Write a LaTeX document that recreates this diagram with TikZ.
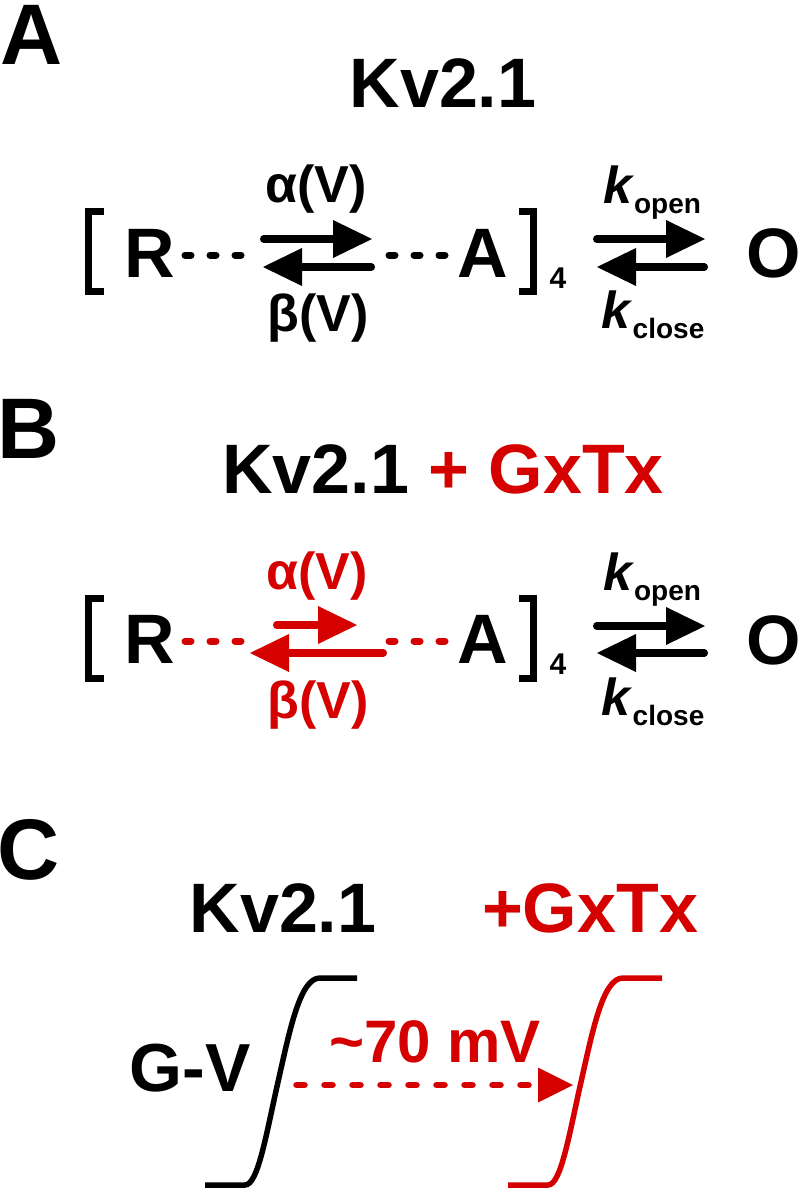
\documentclass[tikz,border=0pt]{standalone}
\usepackage{fontspec}
\setmainfont{Liberation Sans}
\usetikzlibrary{arrows.meta,calc}
\definecolor{gred}{RGB}{213,0,0}
\begin{document}
\begin{tikzpicture}[x=1pt,y=-1pt,
  txt/.style={inner sep=0pt,outer sep=0pt,anchor=base},
  panel/.style={txt,font=\fontsize{86}{90}\selectfont\bfseries},
  ttl/.style={txt,font=\fontsize{70}{80}\selectfont\bfseries},
  state/.style={txt,font=\fontsize{70}{80}\selectfont\bfseries},
  rate/.style={txt,font=\fontsize{52}{60}\selectfont\bfseries},
  subn/.style={txt,font=\fontsize{30}{32}\selectfont\bfseries},
  gv/.style={txt,font=\fontsize{68}{70}\selectfont\bfseries},
  mvlabel/.style={txt,font=\fontsize{60}{62}\selectfont\bfseries},
  rarr/.style={line width=7.5pt,line cap=round,-{Triangle[length=39pt,width=38pt,line width=0pt]}},
  dotline/.style={line width=7pt,line cap=round,dash pattern=on 6pt off 19pt},
  brk/.style={line width=7pt,miter limit=10},
  curve/.style={line width=5.5pt,line cap=butt},
  dasharr/.style={gred,line width=6.5pt,line cap=round,dash pattern=on 8pt off 20pt,
    -{Triangle[length=35pt,width=35pt,line width=0pt]}}
]
\useasboundingbox (0,0) rectangle (800,1189);

% ---------------- Panel A ----------------
\node[panel] (labA) at (32,64) {A};
\node[ttl] (ttlA) at (443,107) {Kv2.1};
\draw[brk] (104,211.5) -- (88.5,211.5) -- (88.5,291.5) -- (104,291.5);
\draw[brk] (519,211.5) -- (533.5,211.5) -- (533.5,291.5) -- (519,291.5);
\node[state] (RA) at (150,277) {R};
\node[state] (AA) at (482.5,277) {A};
\node[subn] (fourA) at (558,288) {4};
\node[state] (OA) at (774,277) {O};
\coordinate (dA1s) at (185,255); \coordinate (dA1e) at (241,255);
\coordinate (dA2s) at (389,255); \coordinate (dA2e) at (445,255);
\draw[dotline] (dA1s) -- (dA1e);
\draw[dotline] (dA2s) -- (dA2e);
\coordinate (aAfs) at (263.75,239); \coordinate (aAft) at (372,239);
\coordinate (aAbs) at (371.25,267); \coordinate (aAbt) at (263,267);
\draw[rarr] (aAfs) -- (aAft);
\draw[rarr] (aAbs) -- (aAbt);
\node[rate] (alA) at (316,202) {α(V)};
\node[rate] (beA) at (318,331) {β(V)};
\coordinate (kAfs) at (596.75,239); \coordinate (kAft) at (705,239);
\coordinate (kAbs) at (704.25,267); \coordinate (kAbt) at (597,267);
\draw[rarr] (kAfs) -- (kAft);
\draw[rarr] (kAbs) -- (kAbt);
\node[rate] (koA) at (652,203) {\textit{k}\raisebox{-10pt}{\fontsize{28}{30}\selectfont open}};
\node[rate] (kcA) at (653,328) {\textit{k}\raisebox{-10pt}{\fontsize{28}{30}\selectfont close}};

% ---------------- Panel B ----------------
\node[panel] (labB) at (29,458) {B};
\node[ttl] (ttlB) at (443,493) {Kv2.1 \textcolor{gred}{+ GxTx}};
\draw[brk] (104,598.5) -- (88.5,598.5) -- (88.5,678.5) -- (104,678.5);
\draw[brk] (519,598.5) -- (533.5,598.5) -- (533.5,678.5) -- (519,678.5);
\node[state] (RB) at (150,663) {R};
\node[state] (AB) at (482.5,663) {A};
\node[subn] (fourB) at (558,674) {4};
\node[state] (OB) at (774,664) {O};
\coordinate (dB1s) at (185,641); \coordinate (dB1e) at (241,641);
\coordinate (dB2s) at (389,641); \coordinate (dB2e) at (445,641);
\draw[dotline,gred] (dB1s) -- (dB1e);
\draw[dotline,gred] (dB2s) -- (dB2e);
\coordinate (aBfs) at (276.75,625); \coordinate (aBft) at (357,625);
\coordinate (aBbs) at (383.25,653); \coordinate (aBbt) at (250,653);
\draw[rarr,gred] (aBfs) -- (aBft);
\draw[rarr,gred] (aBbs) -- (aBbt);
\node[rate,text=gred] (alB) at (317,589) {α(V)};
\node[rate,text=gred] (beB) at (318,718) {β(V)};
\coordinate (kBfs) at (596.75,626); \coordinate (kBft) at (705,626);
\coordinate (kBbs) at (704.25,653); \coordinate (kBbt) at (597,653);
\draw[rarr] (kBfs) -- (kBft);
\draw[rarr] (kBbs) -- (kBbt);
\node[rate] (koB) at (652,590) {\textit{k}\raisebox{-10pt}{\fontsize{28}{30}\selectfont open}};
\node[rate] (kcB) at (653,715) {\textit{k}\raisebox{-10pt}{\fontsize{28}{30}\selectfont close}};

% ---------------- Panel C ----------------
\node[panel] (labC) at (29,879) {C};
\node[ttl] (ttlC1) at (283,932) {Kv2.1};
\node[ttl,text=gred] (ttlC2) at (590,932) {+GxTx};
\node[gv] (gvC) at (190,1091) {G-V};
\node[mvlabel,text=gred] (shC) at (435,1062) {\textasciitilde 70 mV};
\draw[curve] (205,1185) -- (245,1185)
  .. controls (258,1185) and (266,1135) .. (278,1082)
  .. controls (290,1029) and (300,978) .. (320,978) -- (357,978);
\draw[curve,gred] (508,1185) -- (548,1185)
  .. controls (561,1185) and (569,1135) .. (581,1082)
  .. controls (593,1029) and (603,978) .. (623,978) -- (662,978);
\coordinate (shS) at (296.5,1085); \coordinate (shE) at (573,1085);
\draw[dasharr] (shS) -- (shE);
\end{tikzpicture}
\end{document}
